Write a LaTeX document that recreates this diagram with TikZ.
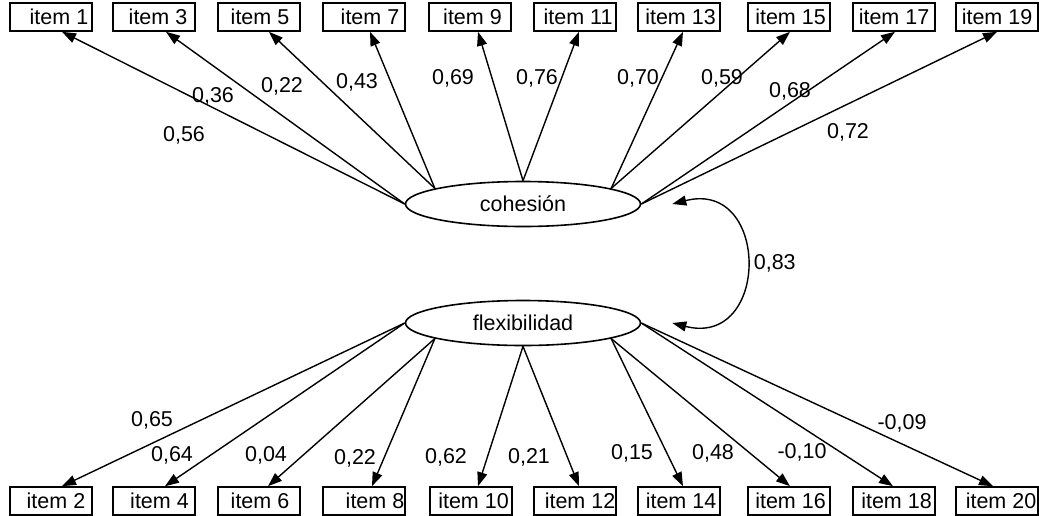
\documentclass[tikz,border=0pt]{standalone}
\usepackage{fontspec}
\setmainfont{Liberation Sans}
\usetikzlibrary{positioning}
\usetikzlibrary{shapes.geometric,arrows.meta}

\tikzset{
	item/.style={draw, line width=1.6pt, rectangle, minimum width=82pt, minimum height=28pt, inner sep=0pt},
	factor/.style={draw, line width=1.6pt, ellipse, minimum width=235pt, minimum height=45pt, inner sep=0pt},
	load/.style={inner sep=0pt},
}

\begin{document}
\begin{tikzpicture}[x=1pt, y=-1pt, line width=1.4pt, >={Triangle[length=14pt,width=10pt]},
	font=\fontsize{21.5}{24}\selectfont]
	\useasboundingbox (0,0) rectangle (1039,515);

	\node[factor] (coh) at (523,204) {cohesión};
	\node[factor] (flex) at (523,323) {flexibilidad};

	% odd items, top row
	\node[item] (i1) at (51,17) {\hspace*{16pt}item 1};
	\node[item] (i3) at (154,17) {\hspace*{8pt}item 3};
	\node[item] (i5) at (259,17) {\hspace*{2pt}item 5};
	\node[item] (i7) at (364,17) {\hspace*{12pt}item 7};
	\node[item] (i9) at (470,17) {\hspace*{5pt}item 9};
	\node[item] (i11) at (575,17) {\hspace*{6pt}item 11};
	\node[item] (i13) at (679,17) {\hspace*{3pt}item 13};
	\node[item] (i15) at (789,17) {\hspace*{3pt}item 15};
	\node[item] (i17) at (894,17) {item 17};
	\node[item] (i19) at (997,17) {item 19};

	% even items, bottom row
	\node[item] (i2) at (51,501) {\hspace*{10pt}item 2};
	\node[item] (i4) at (154,501) {\hspace*{11pt}item 4};
	\node[item] (i6) at (259,501) {\hspace*{2pt}item 6};
	\node[item] (i8) at (364,501) {\hspace*{22pt}item 8};
	\node[item] (i10) at (471,501) {\hspace*{5pt}item 10};
	\node[item] (i12) at (575,501) {\hspace*{10pt}item 12};
	\node[item] (i14) at (679,501) {\hspace*{4pt}item 14};
	\node[item] (i16) at (789,501) {\hspace*{3pt}item 16};
	\node[item] (i18) at (894,501) {\hspace*{5pt}item 18};
	\node[item] (i20) at (997,501) {\hspace*{8pt}item 20};

	\path [draw, ->] (coh.west) -- ([xshift=11pt]i1.south);
	\path [draw, ->] (coh.west) -- ([xshift=12pt]i3.south);
	\path [draw, ->] (coh.170) -- ([xshift=10pt]i5.south);
	\path [draw, ->] (coh.170) -- ([xshift=6pt]i7.south);
	\path [draw, ->] (coh.north) -- ([xshift=8pt]i9.south);
	\path [draw, ->] (coh.north) -- ([xshift=4pt]i11.south);
	\path [draw, ->] (coh.10) -- ([xshift=4pt]i13.south);
	\path [draw, ->] (coh.10) -- ([xshift=1pt]i15.south);
	\path [draw, ->] (coh.east) -- ([xshift=1pt]i17.south);
	\path [draw, ->] (coh.east) -- (i19.south);

	\path [draw, ->] (flex.west) -- ([xshift=11pt]i2.north);
	\path [draw, ->] (flex.west) -- ([xshift=11pt]i4.north);
	\path [draw, ->] (flex.190) -- ([xshift=9pt]i6.north);
	\path [draw, ->] (flex.190) -- ([xshift=8pt]i8.north);
	\path [draw, ->] (flex.south) -- ([xshift=7pt]i10.north);
	\path [draw, ->] (flex.south) -- ([xshift=4pt]i12.north);
	\path [draw, ->] (flex.-10) -- ([xshift=4pt]i14.north);
	\path [draw, ->] (flex.-10) -- ([xshift=1pt]i16.north);
	\path [draw, ->] (flex.east) -- ([xshift=-1pt]i18.north);
	\path [draw, ->] (flex.east) -- ([xshift=-4pt]i20.north);

	\path [draw, <->] ([xshift=31pt]coh.east) .. controls +(98,-25) and +(98,25) .. ([xshift=31pt]flex.east)
		node [right=4pt, pos=0.5] (r) {0,83};

	% loadings
	\node[load] (w1) at (184,135) {0,56};
	\node[load] (w3) at (213,96) {0,36};
	\node[load] (w5) at (282,86) {0,22};
	\node[load] (w7) at (357,82) {0,43};
	\node[load] (w9) at (453,78) {0,69};
	\node[load] (w11) at (537,78) {0,76};
	\node[load] (w13) at (638,78) {0,70};
	\node[load] (w15) at (722,78) {0,59};
	\node[load] (w17) at (790,91) {0,68};
	\node[load] (w19) at (848,132) {0,72};

	\node[load] (w2) at (152,420) {0,65};
	\node[load] (w4) at (172,455) {0,64};
	\node[load] (w6) at (266,455) {0,04};
	\node[load] (w8) at (355,458) {0,22};
	\node[load] (w10) at (446,457) {0,62};
	\node[load] (w12) at (529,457) {0,21};
	\node[load] (w14) at (632,453) {0,15};
	\node[load] (w16) at (713,453) {0,48};
	\node[load] (w18) at (802,452) {-0,10};
	\node[load] (w20) at (902,423) {-0,09};
\end{tikzpicture}
\end{document}
